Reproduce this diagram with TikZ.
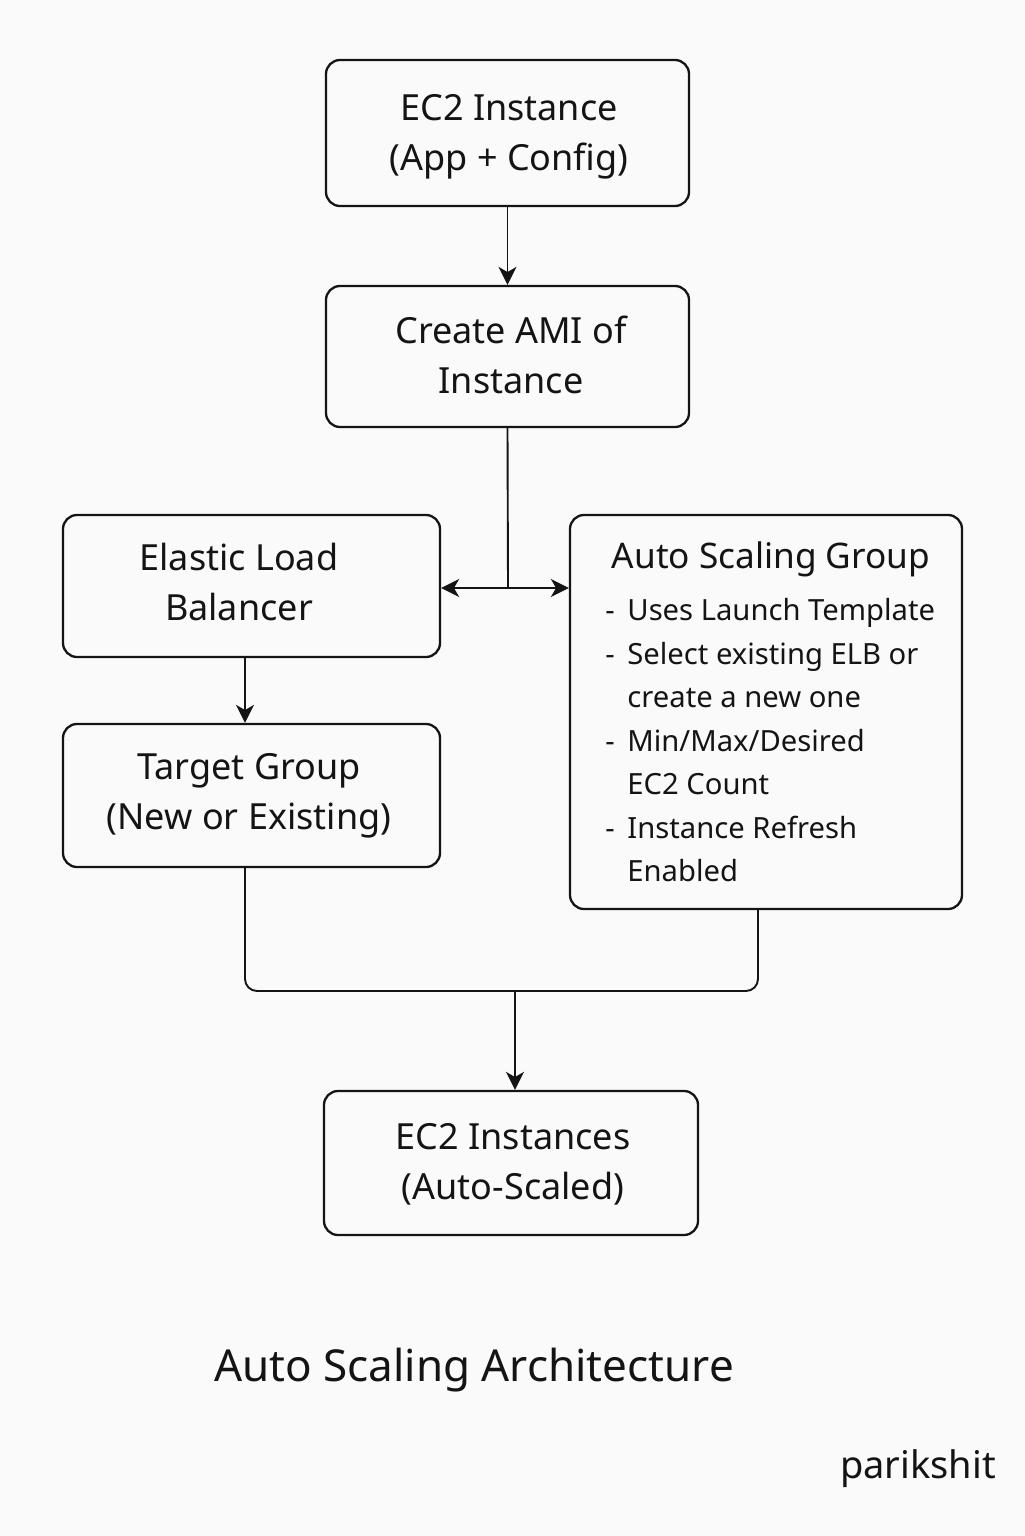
\documentclass[tikz,border=0pt]{standalone}
\usepackage{fontspec}
\setmainfont{Noto Sans}
\usetikzlibrary{arrows.meta}
\definecolor{bgcol}{RGB}{250,250,250}
\definecolor{ink}{RGB}{20,20,20}
\tikzset{
  box/.style={draw=ink, line width=1.15pt, rounded corners=7pt, inner sep=0pt},
  boxtxt/.style={align=center, text=ink, font=\fontsize{18}{25}\selectfont, inner sep=0pt},
  arr/.style={draw=ink, line width=0.95pt, -{Stealth[length=9pt,width=9pt,inset=2.6pt]}},
  conn/.style={draw=ink, line width=0.95pt},
  asgtxt/.style={text=ink, font=\fontsize{14.6}{18}\selectfont, inner sep=0pt, anchor=base west},
}
\begin{document}
\begin{tikzpicture}[x=0.5pt,y=-0.5pt]
\fill[bgcol] (0,0) rectangle (1024,1536);
\useasboundingbox (0,0) rectangle (1024,1536);

\node[box, minimum width=181.5pt, minimum height=73pt] (ec2) at (507.5,133) {};
\node[box, minimum width=181.5pt, minimum height=70.5pt] (ami) at (507.5,356.5) {};
\node[box, minimum width=188.5pt, minimum height=71pt] (elb) at (251.5,586) {};
\node[box, minimum width=196pt, minimum height=197pt] (asg) at (766,712) {};
\node[box, minimum width=188.5pt, minimum height=71.5pt] (tg) at (251.5,795.5) {};
\node[box, minimum width=187pt, minimum height=72pt] (out) at (511,1163) {};

\node[boxtxt] (ec2t) at (509,137) {EC2 Instance\\(App + Config)};
\node[boxtxt] (amit) at (511,355) {Create AMI of\\Instance};
\node[boxtxt] (elbt) at (239,582) {Elastic Load\\Balancer};
\node[boxtxt] (tgt) at (249,796) {Target Group\\(New or Existing)};
\node[boxtxt] (outt) at (513,1164) {EC2 Instances\\(Auto-Scaled)};

\node[text=ink, font=\fontsize{17.6}{20}\selectfont, inner sep=0pt] (asgt) at (771,559) {Auto Scaling Group};
\node[asgtxt] (d1) at (605,620) {-};
\node[asgtxt] (b1) at (627,620) {Uses Launch Template};
\node[asgtxt] (d2) at (605,664) {-};
\node[asgtxt] (b2) at (627,664) {Select existing ELB or};
\node[asgtxt] (b3) at (627,707) {create a new one};
\node[asgtxt] (d4) at (605,751) {-};
\node[asgtxt] (b4) at (627,751) {Min/Max/Desired};
\node[asgtxt] (b5) at (627,794) {EC2 Count};
\node[asgtxt] (d6) at (605,838) {-};
\node[asgtxt] (b6) at (627,838) {Instance Refresh};
\node[asgtxt] (b7) at (627,881) {Enabled};

\coordinate (j) at (508,588);
\coordinate (lx) at (245,0);
\coordinate (rx) at (758,0);
\coordinate (m) at (515,991);

\draw[arr] (ec2.south) -- (ami.north);
\draw[conn] (ami.south) -- (j);
\draw[arr] (j) -- (j -| elb.east);
\draw[arr] (j) -- (j -| asg.west);
\draw[arr] (elb.south -| lx) -- (tg.north -| lx);
\draw[conn, rounded corners=6pt] (tg.south -| lx) -- (lx |- m) -- (rx |- m) -- (asg.south -| rx);
\draw[arr] (m) -- (out.north -| m);

\node[text=ink, font=\fontsize{22}{26}\selectfont, inner sep=0pt] (title) at (474,1370) {Auto Scaling Architecture};
\node[text=ink, font=\fontsize{19}{22}\selectfont, inner sep=0pt] (sig) at (918,1469) {parikshit};
\end{tikzpicture}
\end{document}
